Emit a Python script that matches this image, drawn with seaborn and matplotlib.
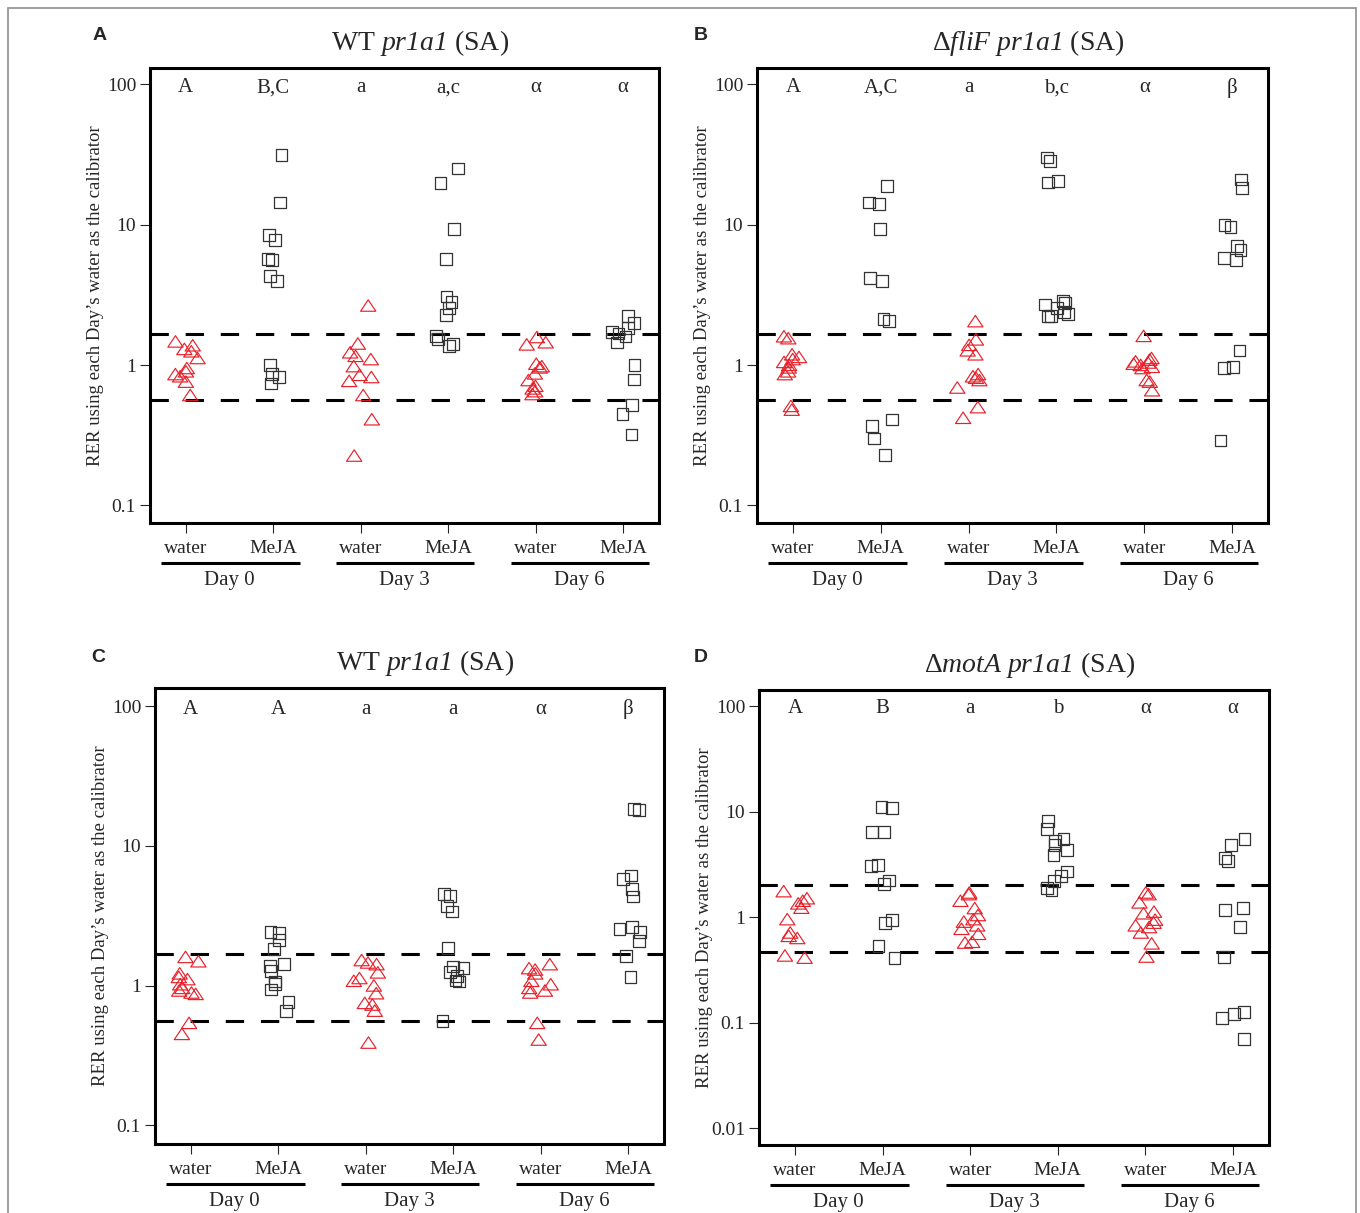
import numpy as np
import pandas as pd
import matplotlib
matplotlib.use('Agg')
import matplotlib.pyplot as plt
import matplotlib.transforms as mtransforms
from matplotlib.patches import Rectangle
from matplotlib.path import Path
from matplotlib.ticker import NullLocator
import seaborn as sns

sns.set_style('white')
plt.rcParams['font.family'] = ['Liberation Serif', 'DejaVu Serif']
plt.rcParams['mathtext.fontset'] = 'custom'
# math is only used for the italic gene names, digits included
plt.rcParams['mathtext.rm'] = 'Liberation Serif:italic'
plt.rcParams['mathtext.it'] = 'Liberation Serif:italic'

# groups on the x axis (treatment within day)
groups = ['D0 water', 'D0 MeJA', 'D3 water', 'D3 MeJA', 'D6 water', 'D6 MeJA']
tick_labels = ['water', 'MeJA', 'water', 'MeJA', 'water', 'MeJA']
days = ['Day 0', 'Day 3', 'Day 6']

# Panel A - WT pr1a1
a_water_d0 = [1.47, 1.38, 1.30, 1.25, 1.12, 0.95, 0.90, 0.86, 0.83, 0.76, 0.61]
a_meja_d0 = [31.5, 14.4, 8.5, 7.8, 5.7, 5.6, 4.3, 4.0, 1.0, 0.87, 0.82, 0.74]
a_water_d3 = [2.65, 1.42, 1.23, 1.16, 1.10, 0.98, 0.85, 0.82, 0.77, 0.61, 0.41, 0.226]
a_meja_d3 = [25.2, 19.8, 9.3, 5.7, 3.08, 2.83, 2.54, 2.29, 1.61, 1.54, 1.42, 1.37]
a_water_d6 = [1.58, 1.45, 1.40, 1.02, 0.98, 0.96, 0.87, 0.78, 0.71, 0.68, 0.65, 0.62]
a_meja_d6 = [2.25, 2.0, 1.85, 1.73, 1.68, 1.6, 1.45, 1.0, 0.79, 0.52, 0.45, 0.32]
a_letters = ['A', 'B,C', 'a', 'a,c', 'α', 'α']
a_cutoffs = [1.68, 0.567]

# Panel B - dfliF pr1a1
b_water_d0 = [1.6, 1.55, 1.19, 1.14, 1.1, 1.05, 1.0, 0.96, 0.9, 0.86, 0.51, 0.48]
b_meja_d0 = [18.9, 14.4, 14.0, 9.3, 4.2, 4.0, 2.14, 2.07, 0.41, 0.37, 0.30, 0.23]
b_water_d3 = [2.05, 1.52, 1.39, 1.27, 1.19, 0.86, 0.83, 0.81, 0.78, 0.69, 0.50, 0.42]
b_meja_d3 = [30.2, 28.6, 20.4, 20.0, 2.86, 2.77, 2.7, 2.54, 2.4, 2.3, 2.25, 2.22]
b_water_d6 = [1.61, 1.12, 1.09, 1.06, 1.04, 1.02, 1.0, 0.97, 0.95, 0.78, 0.76, 0.66]
b_meja_d6 = [21.0, 18.3, 10.0, 9.7, 7.1, 6.6, 5.8, 5.6, 1.27, 0.97, 0.95, 0.29]
b_letters = ['A', 'A,C', 'a', 'b,c', 'α', 'β']
b_cutoffs = [1.68, 0.567]

# Panel C - WT pr1a1
c_water_d0 = [1.6, 1.49, 1.22, 1.15, 1.11, 1.02, 0.96, 0.92, 0.89, 0.87, 0.54, 0.45]
c_meja_d0 = [2.43, 2.38, 2.13, 1.82, 1.42, 1.39, 1.27, 1.07, 1.03, 0.94, 0.76, 0.66]
c_water_d3 = [1.52, 1.46, 1.42, 1.24, 1.13, 1.08, 1.0, 0.88, 0.75, 0.73, 0.66, 0.39]
c_meja_d3 = [4.5, 4.4, 3.7, 3.4, 1.85, 1.37, 1.33, 1.25, 1.17, 1.09, 1.07, 0.56]
c_water_d6 = [1.42, 1.33, 1.3, 1.22, 1.08, 1.02, 0.96, 0.92, 0.89, 0.54, 0.41]
c_meja_d6 = [18.4, 18.1, 6.15, 5.8, 4.9, 4.35, 2.64, 2.53, 2.43, 2.09, 1.62, 1.16]
c_letters = ['A', 'A', 'a', 'a', 'α', 'β']
c_cutoffs = [1.69, 0.56]

# Panel D - dmotA pr1a1
d_water_d0 = [1.75, 1.5, 1.42, 1.34, 1.22, 0.95, 0.71, 0.66, 0.63, 0.43, 0.41]
d_meja_d0 = [11.1, 10.8, 6.45, 6.35, 3.1, 3.05, 2.22, 2.05, 0.94, 0.88, 0.53, 0.41]
d_water_d3 = [1.7, 1.64, 1.42, 1.21, 1.04, 0.95, 0.9, 0.83, 0.77, 0.69, 0.58, 0.57]
d_meja_d3 = [8.2, 6.8, 5.5, 5.3, 4.8, 4.3, 3.9, 2.7, 2.45, 2.2, 1.88, 1.8]
d_water_d6 = [1.7, 1.64, 1.37, 1.12, 1.08, 0.94, 0.88, 0.83, 0.8, 0.71, 0.56, 0.42]
d_meja_d6 = [5.5, 4.8, 3.6, 3.37, 1.21, 1.17, 0.8, 0.42, 0.125, 0.12, 0.11, 0.07]
d_letters = ['A', 'B', 'a', 'b', 'α', 'α']
d_cutoffs = [2.03, 0.469]


def long_table(w0, m0, w3, m3, w6, m6):
    rows = []
    for g, vals in zip(groups, [w0, m0, w3, m3, w6, m6]):
        for v in vals:
            rows.append({'group': g, 'rer': v, 'treat': g.split()[1]})
    return pd.DataFrame(rows)


panels = [
    ('A', r'WT $pr1a1$ (SA)',
     long_table(a_water_d0, a_meja_d0, a_water_d3, a_meja_d3, a_water_d6, a_meja_d6),
     a_letters, a_cutoffs, (0.075, 131), [0.1, 1, 10, 100]),
    ('B', r'Δ$fliF\ pr1a1$ (SA)',
     long_table(b_water_d0, b_meja_d0, b_water_d3, b_meja_d3, b_water_d6, b_meja_d6),
     b_letters, b_cutoffs, (0.075, 131), [0.1, 1, 10, 100]),
    ('C', r'WT $pr1a1$ (SA)',
     long_table(c_water_d0, c_meja_d0, c_water_d3, c_meja_d3, c_water_d6, c_meja_d6),
     c_letters, c_cutoffs, (0.0736, 135), [0.1, 1, 10, 100]),
    ('D', r'Δ$motA\ pr1a1$ (SA)',
     long_table(d_water_d0, d_meja_d0, d_water_d3, d_meja_d3, d_water_d6, d_meja_d6),
     d_letters, d_cutoffs, (0.0069, 142), [0.01, 0.1, 1, 10, 100]),
]

W, H = 1360, 1213
# axes boxes in pixels: left, top, right, bottom
boxes = [(150, 68, 659, 523), (757, 68, 1268, 523),
         (155, 688, 664, 1144), (759, 690, 1269, 1145)]
letter_pos = [(100, 36), (701, 36), (98, 657), (701, 657)]

# flat open triangle
tri = Path([(-1, -0.72), (1, -0.72), (0, 0.78), (-1, -0.72)],
           [Path.MOVETO, Path.LINETO, Path.LINETO, Path.CLOSEPOLY])

fig = plt.figure(figsize=(W / 100, H / 100), dpi=100)
np.random.seed(7)

for (tag, title, df, letters, cutoffs, ylim, yt), box, lp in zip(panels, boxes, letter_pos):
    l, t, r, b = box
    ax = fig.add_axes([l / W, 1 - b / H, (r - l) / W, (b - t) / H])

    sns.stripplot(data=df[df['treat'] == 'water'], x='group', y='rer', order=groups,
                  jitter=0.14, marker=tri, size=11, color='#e8202a',
                  facecolor='none', edgecolor='#e8202a', linewidth=0.85, ax=ax)
    sns.stripplot(data=df[df['treat'] == 'MeJA'], x='group', y='rer', order=groups,
                  jitter=0.14, marker='s', size=8.5, color='#333333',
                  facecolor='none', edgecolor='#333333', linewidth=0.9, ax=ax)

    ax.set_yscale('log')
    ax.set_ylim(*ylim)
    ax.set_xlim(-0.41, 5.41)
    ax.set_yticks(yt)
    ax.set_yticklabels([f'{v:g}' for v in yt], fontsize=14)
    ax.yaxis.set_minor_locator(NullLocator())
    ax.set_xticks(range(6))
    ax.set_xticklabels(tick_labels, fontsize=14)
    ax.tick_params(axis='y', direction='out', length=7, width=0.8, pad=3, left=True)
    ax.tick_params(axis='x', direction='out', length=7, width=0.8, pad=5, bottom=True)
    ax.set_xlabel('')
    ax.set_ylabel('RER using each Day\u2019s water as the calibrator', fontsize=13.5)
    ax.yaxis.set_label_coords(-0.09, 0.5)
    for s in ax.spines.values():
        s.set_linewidth(2.2)
        s.set_color('black')

    for c in cutoffs:
        ax.axhline(c, color='black', lw=2.2, linestyle=(0, (6, 5.5)), zorder=2)

    for i, let in enumerate(letters):
        ax.text(i, 95, let, ha='center', va='center', fontsize=15)

    trans = mtransforms.blended_transform_factory(ax.transData, ax.transAxes)
    for k, day in enumerate(days):
        ax.plot([2 * k - 0.28, 2 * k + 1.3], [-0.088, -0.088], transform=trans,
                color='black', lw=2.2, clip_on=False, solid_capstyle='butt')
        ax.text(2 * k + 0.5, -0.127, day, transform=trans, ha='center', va='center',
                fontsize=15)

    ax.text(0.53, 1.055, title, transform=ax.transAxes, ha='center', va='center',
            fontsize=20)
    fig.text(lp[0] / W, 1 - lp[1] / H, tag, ha='center', va='center',
             fontsize=14, fontweight='bold', family='Liberation Sans')

fig.patches.append(Rectangle((8 / W, -0.02), (1356 - 8) / W, 1 - 8 / H + 0.02,
                             transform=fig.transFigure, fill=False,
                             edgecolor='#8f8f8f', lw=1.2))

plt.savefig('out.png', dpi=100)
